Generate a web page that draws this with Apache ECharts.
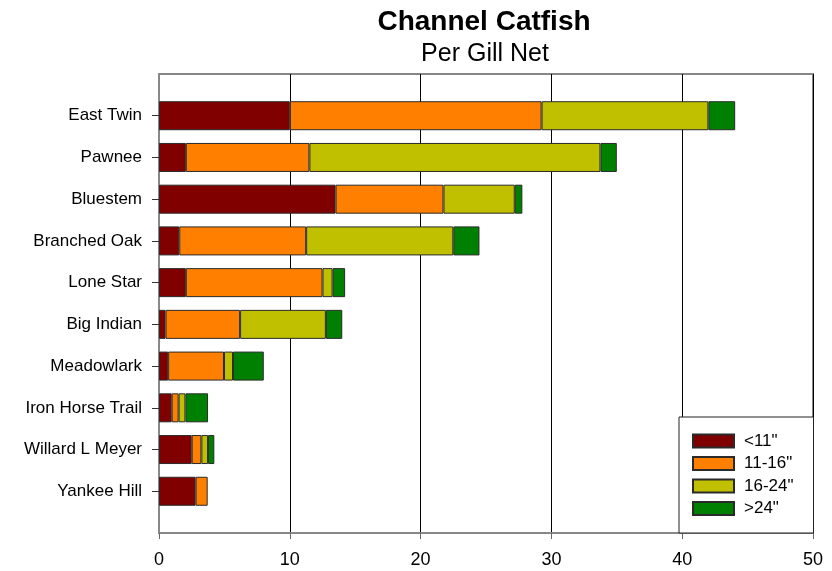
<!DOCTYPE html>
<html>
<head>
<meta charset="utf-8">
<script src="https://cdn.jsdelivr.net/npm/echarts@6/dist/echarts.min.js"></script>
<style>
html,body{margin:0;padding:0;background:#fff;}
#chart{width:832px;height:571px;}
</style>
</head>
<body>
<div id="chart"></div>
<script>
const categories = ['East Twin','Pawnee','Bluestem','Branched Oak','Lone Star','Big Indian','Meadowlark','Iron Horse Trail','Willard L Meyer','Yankee Hill'];
const seriesNames = ['<11"','11-16"','16-24"','>24"'];
const lt11   = [10.0, 2.05, 13.5, 1.55, 2.05, 0.5, 0.7, 0.97, 2.5, 2.8];
const s11_16 = [19.25, 9.45, 8.25, 9.7, 10.45, 5.7, 4.27, 0.53, 0.74, 0.92];
const s16_24 = [12.75, 22.25, 5.45, 11.25, 0.77, 6.56, 0.69, 0.52, 0.51, 0];
const gt24   = [2.05, 1.25, 0.58, 2.0, 0.96, 1.25, 2.35, 1.73, 0.48, 0];
const xTicks = [0, 10, 20, 30, 40, 50];

const colors = ['#800000', '#FF8000', '#C0C000', '#008000'];
const values = [lt11, s11_16, s16_24, gt24];
const pad = a => [null].concat(a.map(v => v === 0 ? null : v), [null]);
const font = '"Liberation Sans", Arial, sans-serif';

const chart = echarts.init(document.getElementById('chart'));
chart.setOption({
  animation: false,
  backgroundColor: '#fff',
  title: [
    { text: 'Channel Catfish', left: 484, top: 8, padding: 0, textAlign: 'center',
      textStyle: { fontFamily: font, fontSize: 28, fontWeight: 'bold', color: '#000' } },
    { text: 'Per Gill Net', left: 485, top: 42, padding: 0, textAlign: 'center',
      textStyle: { fontFamily: font, fontSize: 25, fontWeight: 'normal', color: '#000' } }
  ],
  grid: { left: 159, right: 19, top: 74, bottom: 38, show: true, borderColor: '#888', borderWidth: 2, backgroundColor: '#fff' },
  legend: {
    orient: 'vertical', left: 679, top: 417,
    data: seriesNames,
    itemWidth: 41, itemHeight: 13, itemGap: 5.5,
    padding: [15.5, 20, 16, 13],
    backgroundColor: '#fff', borderColor: '#222', borderWidth: 1,
    icon: 'rect',
    textStyle: { fontFamily: font, fontSize: 17, lineHeight: 17, color: '#000', padding: [0, 0, 0, 5] }
  },
  xAxis: {
    type: 'value', min: xTicks[0], max: xTicks[xTicks.length - 1], interval: 10,
    axisLine: { show: true, lineStyle: { color: '#888', width: 2 } },
    axisTick: { show: true, length: 6, lineStyle: { color: '#666', width: 1 } },
    axisLabel: { fontFamily: font, fontSize: 18, color: '#000', margin: 18 },
    splitLine: { show: true, showMinLine: false, showMaxLine: true, lineStyle: { color: '#000', width: 1 } }
  },
  yAxis: {
    type: 'category', inverse: true, boundaryGap: false,
    data: [''].concat(categories, ['']),
    axisLine: { show: true, lineStyle: { color: '#888', width: 2 } },
    axisTick: { show: true, length: 7, interval: (i, v) => v !== '', lineStyle: { color: '#333', width: 1 } },
    axisLabel: { fontFamily: font, fontSize: 17, color: '#000', margin: 17, interval: 0 },
    splitLine: { show: false }
  },
  series: values.map((arr, i) => ({
    name: seriesNames[i], type: 'bar', stack: 'total', barWidth: 29,
    data: pad(arr),
    itemStyle: { color: colors[i], borderColor: '#2a2a2a', borderWidth: 1 }
  }))
});
</script>
</body>
</html>
